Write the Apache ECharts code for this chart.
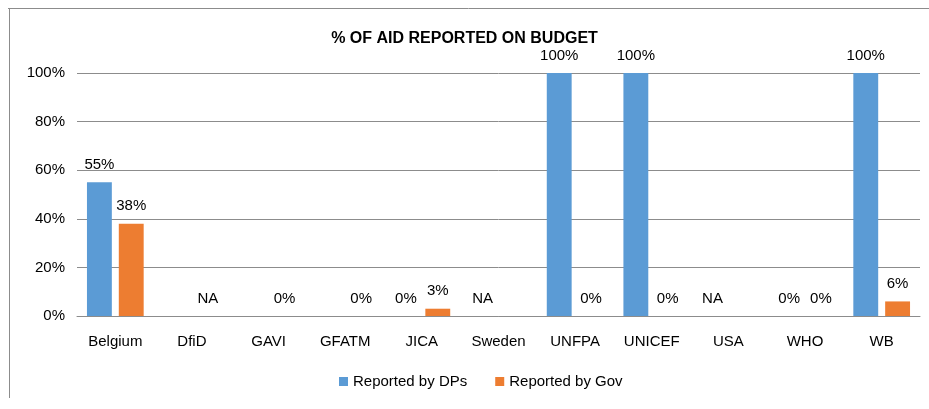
<!DOCTYPE html>
<html>
<head>
<meta charset="utf-8">
<script src="https://cdn.jsdelivr.net/npm/echarts@6/dist/echarts.min.js"></script>
<style>
  html, body { margin: 0; padding: 0; background: #fff; }
  #chart { width: 929px; height: 409px; }
</style>
</head>
<body>
<div id="chart"></div>
<script>
const categories = ["Belgium", "DfiD", "GAVI", "GFATM", "JICA", "Sweden", "UNFPA", "UNICEF", "USA", "WHO", "WB"];
// null = no bar, no label; "NA" = label NA at zero
const dpValues = [55, null, null, null, 0, "NA", 100, 100, "NA", 0, 100];
const govValues = [38, "NA", 0, 0, 3, null, 0, 0, null, 0, 6];
const yTicks = [0, 20, 40, 60, 80, 100];

const font = '"Liberation Sans Narrow", "Liberation Sans", sans-serif';

function toData(arr) {
  return arr.map(function (v) {
    if (v === null) return "-";
    if (v === "NA") return { value: 0, label: { formatter: "NA" } };
    return v;
  });
}

const chart = echarts.init(document.getElementById("chart"));
chart.setOption({
  animation: false,
  textStyle: { fontFamily: font },
  title: {
    text: "% OF AID REPORTED ON BUDGET",
    left: "center",
    top: 26,
    textStyle: { fontFamily: font, fontSize: 16, fontWeight: "bold", color: "#000" }
  },
  legend: {
    bottom: 15,
    left: 334,
    itemWidth: 9,
    itemHeight: 9,
    itemGap: 28,
    icon: "rect",
    textStyle: { fontFamily: font, fontSize: 15, color: "#000" }
  },
  grid: { left: 77, right: 9, top: 73, bottom: 93 },
  xAxis: {
    type: "category",
    data: categories,
    axisTick: { show: false },
    axisLine: { lineStyle: { color: "#8c8c8c" } },
    axisLabel: { fontFamily: font, fontSize: 15, color: "#000", margin: 18 }
  },
  yAxis: {
    type: "value",
    min: yTicks[0],
    max: yTicks[yTicks.length - 1],
    interval: 20,
    axisLabel: { fontFamily: font, fontSize: 15, color: "#000", formatter: "{value}%", margin: 12 },
    splitLine: { lineStyle: { color: "#8c8c8c" } },
    axisLine: { show: false },
    axisTick: { show: false }
  },
  series: [
    {
      name: "Reported by DPs",
      type: "bar",
      data: toData(dpValues),
      itemStyle: { color: "#5B9BD5" },
      barGap: "28%",
      barCategoryGap: "26%",
      label: { show: true, position: "top", distance: 10, fontFamily: font, fontSize: 15, color: "#000", formatter: "{c}%" }
    },
    {
      name: "Reported by Gov",
      type: "bar",
      data: toData(govValues),
      itemStyle: { color: "#ED7D31" },
      label: { show: true, position: "top", distance: 10, fontFamily: font, fontSize: 15, color: "#000", formatter: "{c}%" }
    }
  ],
  graphic: [
    { type: "line", shape: { x1: 8, y1: 8.5, x2: 929, y2: 8.5 }, style: { stroke: "#8c8c8c", lineWidth: 1 } },
    { type: "line", shape: { x1: 9.5, y1: 8, x2: 9.5, y2: 398 }, style: { stroke: "#8c8c8c", lineWidth: 1 } }
  ]
});
</script>
</body>
</html>
